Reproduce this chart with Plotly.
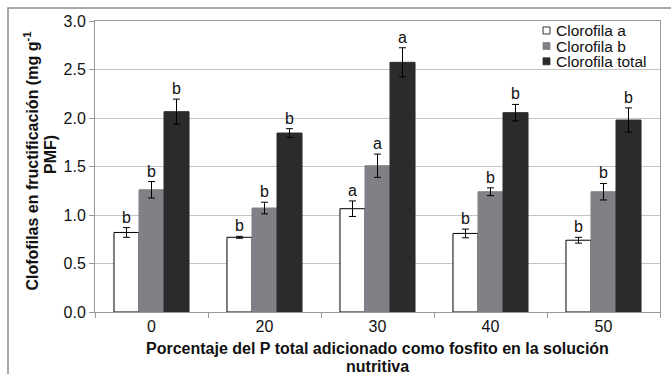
import plotly.graph_objects as go

categories = ["0", "20", "30", "40", "50"]
series_names = ["Clorofila a", "Clorofila b", "Clorofila total"]
clorofila_a = [0.82, 0.77, 1.065, 0.81, 0.74]
clorofila_a_err = [0.05, 0.01, 0.08, 0.045, 0.03]
clorofila_b = [1.26, 1.072, 1.508, 1.24, 1.24]
clorofila_b_err = [0.085, 0.06, 0.12, 0.04, 0.085]
clorofila_total = [2.065, 1.845, 2.574, 2.055, 1.979]
clorofila_total_err = [0.13, 0.045, 0.15, 0.085, 0.125]
letters_a = ["b", "b", "a", "b", "b"]
letters_b = ["b", "b", "a", "b", "b"]
letters_total = ["b", "b", "a", "b", "b"]
x_title_lines = ["Porcentaje del P total adicionado como fosfito en la solución", "nutritiva"]
y_title_lines = ["Clofofilas en fructificación (mg g<sup>-1</sup>", "PMF)"]

values = [clorofila_a, clorofila_b, clorofila_total]
errors = [clorofila_a_err, clorofila_b_err, clorofila_total_err]
letters = [letters_a, letters_b, letters_total]
fills = ["#ffffff", "#808186", "#2b2b2e"]
outlines = ["#000000", "#808186", "#2b2b2e"]
shifts = [-25, 0, 25]

FONT = "Liberation Sans, Arial, sans-serif"
TXT = "#111111"

# plot area in pixels: x 95..660, y 21..312
L, R, T, B = 95, 660, 21, 312
W, H = R - L, B - T
def px(x):
    return (x - L) / W
def py(y):
    return (B - y) / H

fig = go.Figure()
for name, v, e, fc, lc in zip(series_names, values, errors, fills, outlines):
    fig.add_trace(go.Bar(
        name=name, x=categories, y=v, showlegend=False,
        marker=dict(color=fc, line=dict(color=lc, width=1)),
        error_y=dict(type="data", array=e, visible=True, color="#000000",
                     thickness=1, width=3.5),
    ))

annotations = []
for v, e, lets, sh in zip(values, errors, letters, shifts):
    for i, (val, err, Lt) in enumerate(zip(v, e, lets)):
        annotations.append(dict(
            x=i, y=val + err, xref="x", yref="y", text=Lt, showarrow=False,
            xshift=sh, yanchor="bottom", yshift=0,
            font=dict(family=FONT, size=16, color=TXT),
        ))

# axis titles
for txt, cy in zip(x_title_lines, [348, 366.5]):
    annotations.append(dict(
        x=0.5, y=py(cy), xref="paper", yref="paper", xanchor="center", yanchor="middle",
        text="<b>" + txt + "</b>", showarrow=False,
        font=dict(family=FONT, size=16, color=TXT),
    ))
for txt, cx, cy in zip(y_title_lines, [31.5, 50], [161, 155]):
    annotations.append(dict(
        x=px(cx), y=py(cy), xref="paper", yref="paper", xanchor="center", yanchor="middle",
        text="<b>" + txt + "</b>", showarrow=False, textangle=-90,
        font=dict(family=FONT, size=16, color=TXT),
    ))

# legend (keys + labels)
shapes = [dict(type="path", xref="paper", yref="paper",
               path="M %f %f L %f %f L %f %f" % (px(8), py(400), px(8), py(8), px(700), py(8)),
               line=dict(color="#8c8c8c", width=1.5))]
for name, fc, lc, cy in zip(series_names, fills, ["#000000", "#808186", "#2b2b2e"], [30.5, 46, 61.3]):
    annotations.append(dict(
        x=px(554), y=py(cy), xref="paper", yref="paper", xanchor="left", yanchor="middle",
        text=name, showarrow=False, font=dict(family=FONT, size=15.5, color=TXT),
    ))
    shapes.append(dict(type="rect", xref="paper", yref="paper",
                       x0=px(543), x1=px(550), y0=py(cy + 3.5), y1=py(cy - 3.5),
                       fillcolor=fc, line=dict(color=lc, width=0.8)))

fig.update_layout(
    width=671, height=374,
    margin=dict(l=L, r=671 - R, t=T, b=374 - B, autoexpand=False),
    paper_bgcolor="#ffffff", plot_bgcolor="#ffffff",
    barmode="group", bargap=0.336, bargroupgap=0,
    font=dict(family=FONT, size=16, color=TXT),
    showlegend=False,
    annotations=annotations,
    shapes=shapes,
    xaxis=dict(
        type="category", range=[-0.5, 4.5], automargin=False,
        showline=True, linecolor="#999999", linewidth=1,
        mirror=True, ticks="outside", tickson="boundaries", ticklen=5,
        tickcolor="#999999", showgrid=False,
        tickfont=dict(size=16, color=TXT),
    ),
    yaxis=dict(
        range=[0, 3.0], dtick=0.5, tickformat=".1f", automargin=False,
        showline=True, linecolor="#999999", linewidth=1, mirror=True,
        ticks="outside", ticklen=5, tickcolor="#999999",
        showgrid=True, gridcolor="#c4c4c4", gridwidth=1,
        zeroline=False,
        tickfont=dict(size=16, color=TXT),
    ),
)

fig.write_html("out.html", config={"displayModeBar": False},
               post_script="document.body.style.margin='0';")
